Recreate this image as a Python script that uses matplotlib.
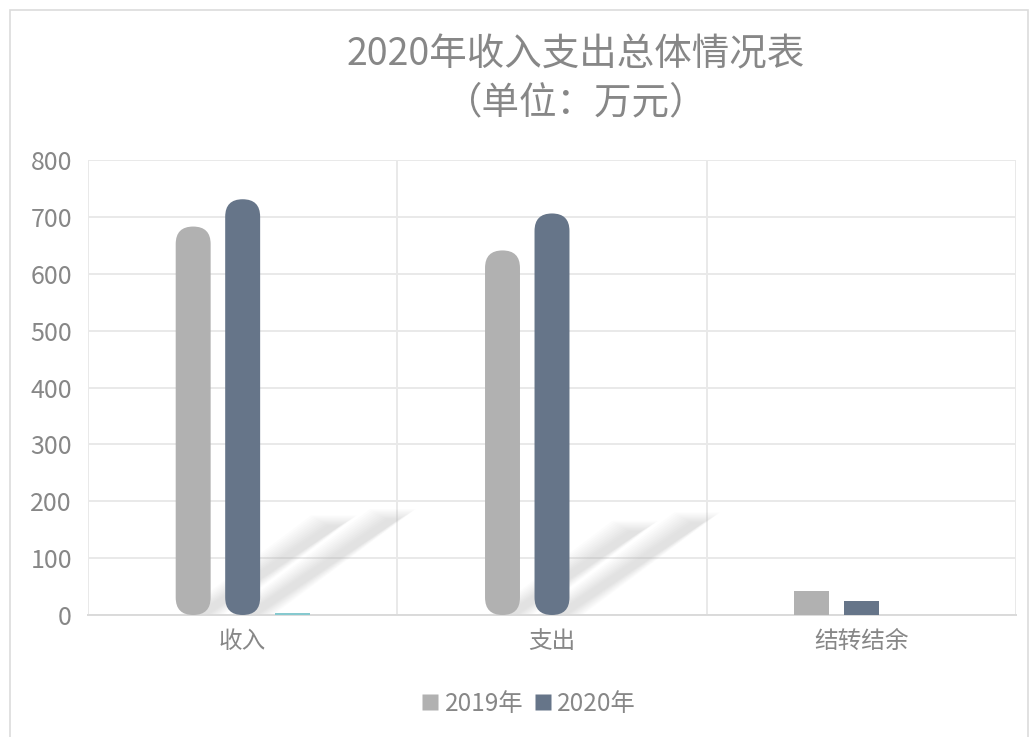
import numpy as np
import matplotlib
matplotlib.use("Agg")
import matplotlib.pyplot as plt
from matplotlib.patches import FancyBboxPatch, Rectangle, Polygon
from matplotlib.lines import Line2D

plt.rcParams['font.family'] = ['Noto Sans CJK SC', 'DejaVu Sans']

categories = ["收入", "支出", "结转结余"]
series_names = ["2019年", "2020年", ""]
vals_2019 = [683, 641, 42]
vals_2020 = [731, 706, 25]
vals_other = [3, 0, 0]
colors = ["#b1b1b1", "#667589", "#86c9cf"]
title = "2020年收入支出总体情况表\n（单位：万元）"
yticks = [0, 100, 200, 300, 400, 500, 600, 700, 800]

text_color = "#878787"
grid_color = "#e9e9e9"

fig = plt.figure(figsize=(10.35, 7.37), dpi=100)
ax = fig.add_axes([88 / 1035, 1 - 615 / 737, (1016 - 88) / 1035, (615 - 160) / 737])

# light frame round the chart
fig.patches.append(Rectangle((10 / 1035, -0.05), 1018 / 1035, 1 - 10 / 737 + 0.05,
                             transform=fig.transFigure, fill=False,
                             edgecolor="#dcdcdc", linewidth=1.2))

x = np.arange(len(categories))
offset = 0.16
width = 0.113
all_vals = [vals_2019, vals_2020, vals_other]

ax.set_xlim(-0.5, len(categories) - 0.5)
ax.set_ylim(0, 800)

# pixel scale to get round caps right
fig.canvas.draw()
p0 = ax.transData.transform((0, 0))
p1 = ax.transData.transform((1, 100))
px_per_x = p1[0] - p0[0]
px_per_y = (p1[1] - p0[1]) / 100
aspect = px_per_x / px_per_y

for i, vals in enumerate(all_vals):
    bars = ax.bar(x + (i - 1) * offset, vals, width, color=colors[i], zorder=3)
    for b, v in zip(bars, vals):
        if v < 150:
            continue
        b.set_visible(False)
        bx, bw = b.get_x(), b.get_width()
        # soft diagonal shadow behind the tall bars
        if i < 2:
            sh_dx = 0.44 * v / 700
            sh_dy = 0.23 * v
            for k in range(10):
                grow = k * 0.006
                poly = Polygon([(bx + bw * 0.55 - grow, 0), (bx + bw * 0.9 + grow, 0),
                                (bx + bw * 0.9 + sh_dx + grow, sh_dy + k * 2),
                                (bx + bw * 0.55 + sh_dx - grow, sh_dy + k * 2)],
                               closed=True, facecolor="#909090", edgecolor="none",
                               alpha=0.022, zorder=2)
                ax.add_patch(poly)
        r = bw / 2
        fb = FancyBboxPatch((bx, 0), bw, v,
                            boxstyle="round,pad=0,rounding_size=%f" % r,
                            mutation_aspect=aspect,
                            facecolor=colors[i], edgecolor="none", zorder=3)
        ax.add_patch(fb)

ax.set_yticks(yticks)
ax.set_xticks(x)
ax.set_xticklabels(categories)
ax.set_xticks(np.arange(-0.5, len(categories), 0.5), minor=True)
ax.yaxis.grid(True, color=grid_color, linewidth=1.4, zorder=0)
ax.xaxis.grid(True, which="minor", color=grid_color, linewidth=1.4, zorder=0)
ax.xaxis.grid(False, which="major")
ax.set_axisbelow(True)

for s in ["top", "right", "left"]:
    ax.spines[s].set_visible(False)
ax.spines["bottom"].set_color("#dadada")
ax.spines["bottom"].set_linewidth(1.4)

ax.tick_params(axis="both", which="both", length=0, colors=text_color)
ax.tick_params(axis="y", labelsize=18, pad=11.5)
ax.tick_params(axis="x", labelsize=17, pad=11)

fig.text(576 / 1035, 1 - 79 / 737, title, ha="center", va="center", fontsize=27,
         color=text_color, linespacing=1.3)

handles = [Line2D([0], [0], marker="s", linestyle="none", markersize=12,
                  markerfacecolor=colors[i], markeredgecolor="none")
           for i in range(2)]
fig.legend(handles, series_names[:2], loc="center", bbox_to_anchor=(527 / 1035, 1 - 704 / 737),
           ncol=2, frameon=False, fontsize=17.5, labelcolor=text_color,
           handletextpad=0.1, columnspacing=0.3, handlelength=1.0)

fig.savefig("out.png", dpi=100)
